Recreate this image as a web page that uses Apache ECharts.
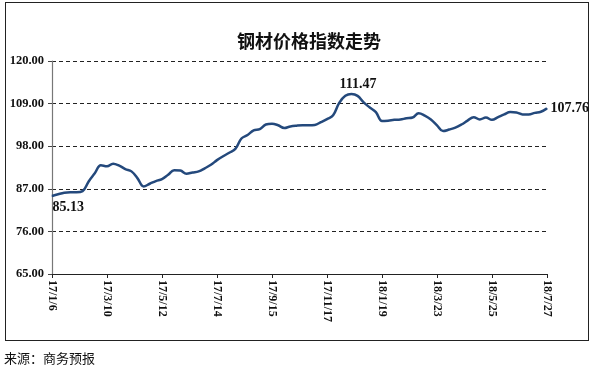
<!DOCTYPE html>
<html>
<head>
<meta charset="utf-8">
<script src="https://cdn.jsdelivr.net/npm/echarts@6/dist/echarts.min.js"></script>
<style>
html,body{margin:0;padding:0;background:#fff;}
#frame{position:absolute;left:5px;top:2px;width:582px;height:337px;border:1.5px solid #222;box-sizing:content-box;}
#chart{position:absolute;left:0;top:0;width:594px;height:370px;}
#src{position:absolute;left:4px;top:348px;font-family:"Noto Sans CJK SC",sans-serif;font-size:13px;color:#111;}
</style>
</head>
<body>
<div id="frame"></div>
<div id="chart"></div>
<div id="src">来源：商务预报</div>
<script>
var categories = ["17/1/6","17/1/13","17/1/20","17/1/27","17/2/3","17/2/10","17/2/17","17/2/24","17/3/3","17/3/10",
"17/3/17","17/3/24","17/3/31","17/4/7","17/4/14","17/4/21","17/4/28","17/5/5","17/5/12",
"17/5/19","17/5/26","17/6/2","17/6/9","17/6/16","17/6/23","17/6/30","17/7/7","17/7/14",
"17/7/21","17/7/28","17/8/4","17/8/11","17/8/18","17/8/25","17/9/1","17/9/8","17/9/15",
"17/9/22","17/9/29","17/10/6","17/10/13","17/10/20","17/10/27","17/11/3","17/11/10","17/11/17",
"17/11/24","17/12/1","17/12/8","17/12/15","17/12/22","17/12/29","18/1/5","18/1/12","18/1/19",
"18/1/26","18/2/2","18/2/9","18/2/16","18/2/23","18/3/2","18/3/9","18/3/16","18/3/23",
"18/3/30","18/4/6","18/4/13","18/4/20","18/4/27","18/5/4","18/5/11","18/5/18","18/5/25",
"18/6/1","18/6/8","18/6/15","18/6/22","18/6/29","18/7/6","18/7/13","18/7/20","18/7/27"];
var values = [85.13,85.6,86.0,86.1,86.1,86.4,88.9,91.0,93.1,92.8,
93.5,93.0,92.1,91.5,89.7,87.6,88.3,89.0,89.5,
90.6,91.8,91.7,90.9,91.2,91.5,92.3,93.2,94.4,
95.4,96.3,97.3,100.0,100.9,102.1,102.4,103.6,103.8,
103.4,102.7,103.1,103.3,103.4,103.4,103.5,104.2,105.0,
106.0,109.2,111.0,111.47,111.0,109.3,108.0,106.8,104.5,
104.6,104.8,104.9,105.2,105.4,106.5,105.9,104.9,103.4,
101.9,102.3,102.8,103.6,104.6,105.5,104.9,105.4,104.8,
105.5,106.2,106.8,106.7,106.2,106.2,106.6,106.9,107.76];
var yTicks = [65, 76, 87, 98, 109, 120];
var labelledPoints = [0, 49, 81];
var labelPositions = [[1, 5], [7, -2], "right"];
var labelAligns = [["left", "top"], ["center", "bottom"], ["left", "middle"]];

var seriesData = values.map(function (v, i) {
  var k = labelledPoints.indexOf(i);
  if (k < 0) return v;
  return { value: v, label: { show: true, position: labelPositions[k], align: labelAligns[k][0], verticalAlign: labelAligns[k][1] } };
});

var chart = echarts.init(document.getElementById('chart'), null, { renderer: 'canvas' });
chart.setOption({
  backgroundColor: 'transparent',
  animation: false,
  title: {
    text: '钢材价格指数走势',
    left: 304, top: 27, textAlign: 'center',
    textStyle: { fontFamily: '"Noto Sans CJK SC", sans-serif', fontWeight: 'bold', fontSize: 18, color: '#111' }
  },
  grid: { left: 52, right: 47, top: 61, bottom: 96 },
  xAxis: {
    type: 'category',
    data: categories,
    boundaryGap: false,
    axisLine: { lineStyle: { color: '#222', width: 1.2 } },
    axisTick: { show: true, interval: 8, length: 4, lineStyle: { color: '#222' } },
    axisLabel: {
      interval: 8, rotate: -90, margin: 6,
      fontFamily: '"Liberation Serif", "Times New Roman", serif', fontWeight: 'bold', fontSize: 12, color: '#111'
    },
    splitLine: { show: false }
  },
  yAxis: {
    type: 'value',
    min: yTicks[0], max: yTicks[yTicks.length - 1], interval: yTicks[1] - yTicks[0],
    axisLine: { show: true, lineStyle: { color: '#777', width: 1.2 } },
    axisTick: { show: true, length: 4, lineStyle: { color: '#444' } },
    axisLabel: {
      margin: 8,
      formatter: function (v) { return v.toFixed(2); },
      fontFamily: '"Liberation Serif", "Times New Roman", serif', fontWeight: 'bold', fontSize: 12.5, color: '#111'
    },
    splitLine: { show: true, lineStyle: { color: '#222', type: [4, 3], width: 1 } }
  },
  series: [{
    type: 'line',
    data: seriesData,
    smooth: 0.4,
    symbol: 'circle',
    symbolSize: 1,
    showSymbol: true,
    showAllSymbol: true,
    itemStyle: { color: '#24497C' },
    lineStyle: { color: '#24497C', width: 2.5 },
    labelLayout: { hideOverlap: false },
    label: {
      show: false,
      formatter: function (p) { return Number(p.value).toFixed(2); },
      fontFamily: '"Liberation Serif", "Times New Roman", serif', fontWeight: 'bold', fontSize: 14, color: '#111', distance: 3
    }
  }]
});
</script>
</body>
</html>
